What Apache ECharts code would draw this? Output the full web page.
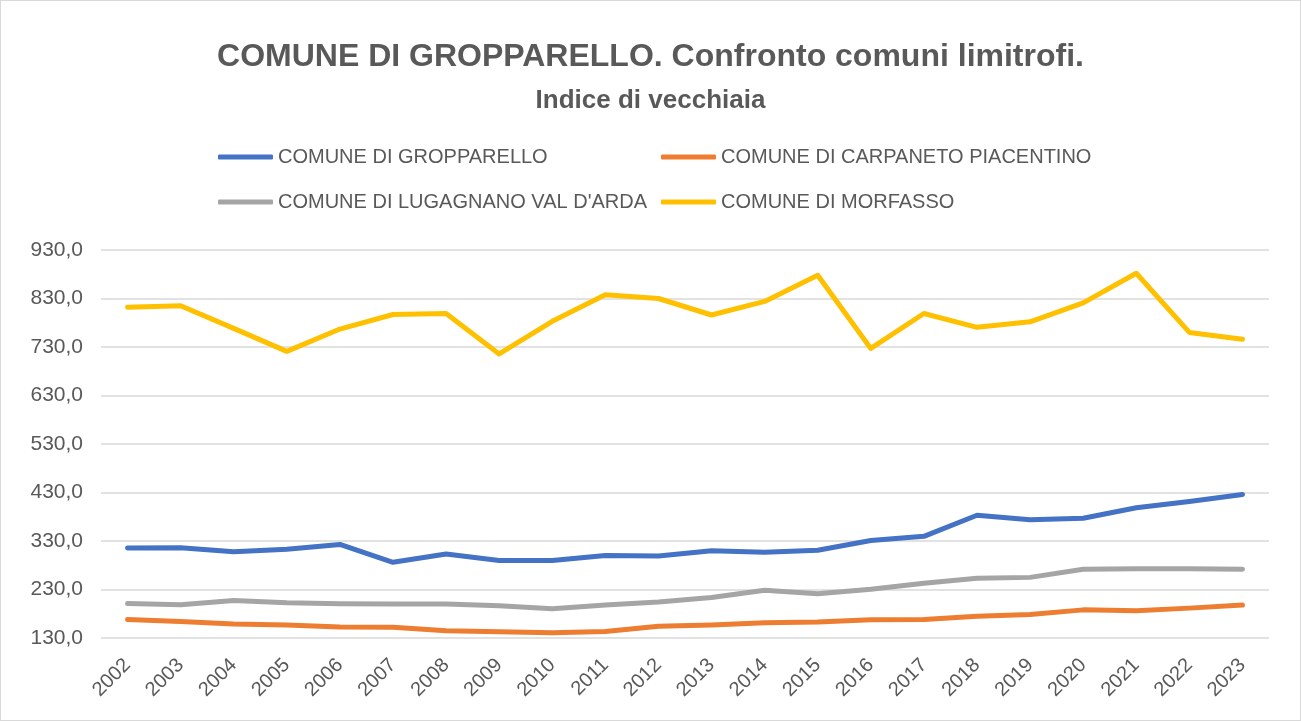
<!DOCTYPE html>
<html>
<head>
<meta charset="utf-8">
<script src="https://cdn.jsdelivr.net/npm/echarts@6/dist/echarts.min.js"></script>
<style>
  html, body { margin: 0; padding: 0; background: #fff; }
  #chart { width: 1301px; height: 721px; box-sizing: border-box; border: 1px solid #d9d9d9; }
</style>
</head>
<body>
<div id="chart"></div>
<script>
// Indice di vecchiaia, 2002-2023
const years = ['2002','2003','2004','2005','2006','2007','2008','2009','2010','2011','2012',
               '2013','2014','2015','2016','2017','2018','2019','2020','2021','2022','2023'];

const gropparello = [315.6, 316, 308, 313, 323, 286, 303, 290, 290, 300, 299,
                     310, 307, 311, 331, 339.6, 383, 374, 377, 398.6, 411.5, 426];
const carpaneto   = [168.3, 164, 159, 156.7, 152.6, 152, 145, 142.8, 141, 143.5, 154,
                     157, 161.4, 163, 167.6, 168.3, 175, 178.5, 188, 186, 191.6, 197.8];
const lugagnano   = [201, 198.5, 207.5, 202.7, 200.6, 200, 200, 196.5, 190.4, 198, 204,
                     213.6, 228.6, 221, 230.7, 243, 253, 255, 271.7, 273, 273, 272];
const morfasso    = [812, 815, 768.5, 721, 767, 797, 799, 715.6, 783, 837.5, 830,
                     796, 824, 878, 727, 799, 770.5, 782, 821, 882, 760, 746];

const seriesNames = ['COMUNE DI GROPPARELLO', 'COMUNE DI CARPANETO PIACENTINO',
                     "COMUNE DI LUGAGNANO VAL D'ARDA", 'COMUNE DI MORFASSO'];
const seriesData = [gropparello, carpaneto, lugagnano, morfasso];
const colors = ['#4472C4', '#ED7D31', '#A5A5A5', '#FFC000'];

const yTicks = { min: 130, max: 930, step: 100 };

const FONT = 'Liberation Sans';
const textGrey = '#595959';

const chart = echarts.init(document.getElementById('chart'), null, { renderer: 'canvas' });

// two legend rows, two columns
const legendPos = [
  { left: 212, top: 141 },
  { left: 655, top: 141 },
  { left: 212, top: 186 },
  { left: 655, top: 186 }
];

chart.setOption({
  backgroundColor: '#fff',
  animation: false,
  color: colors,
  title: [
    {
      text: 'COMUNE DI GROPPARELLO. Confronto comuni limitrofi.',
      left: 'center', top: 35,
      textStyle: { fontFamily: FONT, fontSize: 32, fontWeight: 'bold', color: textGrey }
    },
    {
      text: 'Indice di vecchiaia',
      left: 'center', top: 82,
      textStyle: { fontFamily: FONT, fontSize: 26, fontWeight: 'bold', color: textGrey }
    }
  ],
  legend: seriesNames.map((n, i) => ({
    data: [n],
    left: legendPos[i].left, top: legendPos[i].top,
    icon: 'roundRect',
    itemWidth: 55, itemHeight: 5, itemGap: 0,
    textStyle: { fontFamily: FONT, fontSize: 20, color: textGrey }
  })),
  grid: { left: 100, right: 31, top: 249, bottom: 82 },
  xAxis: {
    type: 'category',
    data: years,
    boundaryGap: true,
    axisLine: { show: false },
    axisTick: { show: false },
    axisLabel: {
      rotate: 45, fontFamily: FONT, fontSize: 20, color: textGrey, margin: 24, interval: 0
    }
  },
  yAxis: {
    type: 'value',
    min: yTicks.min, max: yTicks.max, interval: yTicks.step,
    axisLine: { show: false },
    axisTick: { show: false },
    splitLine: { lineStyle: { color: '#d9d9d9', width: 1.5 } },
    axisLabel: {
      fontFamily: FONT, fontSize: 21, color: textGrey, margin: 18,
      formatter: v => v.toFixed(1).replace('.', ',')
    }
  },
  series: seriesNames.map((n, i) => ({
    name: n,
    type: 'line',
    data: seriesData[i],
    symbol: 'none',
    lineStyle: { width: 5, color: colors[i], cap: 'round', join: 'round' },
    itemStyle: { color: colors[i] }
  }))
});
</script>
</body>
</html>
